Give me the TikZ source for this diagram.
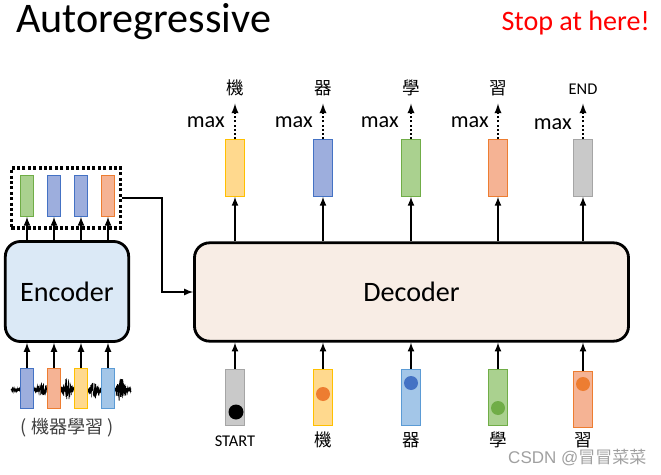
\documentclass[tikz,border=0pt]{standalone}
\usepackage{fontspec}
\usepackage{xcolor}
\setmainfont{Carlito}
\newfontfamily\cjk{Noto Sans CJK TC}
\newfontfamily\wmfont{Liberation Sans}

\definecolor{yelF}{HTML}{FFD98E}\definecolor{yelD}{HTML}{FFC000}
\definecolor{bluF}{HTML}{9DAEDD}\definecolor{bluD}{HTML}{4472C4}
\definecolor{grnF}{HTML}{AAD18F}\definecolor{grnD}{HTML}{70AD47}
\definecolor{orgF}{HTML}{F5B394}\definecolor{orgD}{HTML}{ED7D31}
\definecolor{gryF}{HTML}{C9C9C9}\definecolor{gryD}{HTML}{A5A5A5}
\definecolor{lblF}{HTML}{A3C6E8}\definecolor{lblD}{HTML}{5B9BD5}
\definecolor{encF}{HTML}{DBE9F6}
\definecolor{decF}{HTML}{F8EDE5}
\definecolor{wmC}{HTML}{A0A0A0}

\tikzset{arrow/.style={->, >=latex, line width=1.6pt}}
\tikzset{dotarrow/.style={arrow, dotted, line width=1.8pt}}
\tikzset{block/.style={draw=black, line width=2.4pt, rounded corners=0.45cm}}
\tikzset{dotbox/.style={draw=black, dotted, line width=2.6pt}}
\tikzset{vec/.style={draw, line width=0.8pt, inner sep=0pt, minimum width=0.55cm, minimum height=1.7cm}}
\tikzset{svec/.style={vec, minimum width=0.38cm, minimum height=1.22cm}}
\tikzset{vyel/.style={fill=yelF, draw=yelD}}
\tikzset{vblu/.style={fill=bluF, draw=bluD}}
\tikzset{vgrn/.style={fill=grnF, draw=grnD}}
\tikzset{vorg/.style={fill=orgF, draw=orgD}}
\tikzset{vgry/.style={fill=gryF, draw=gryD}}
\tikzset{vlbl/.style={fill=lblF, draw=lblD}}
\tikzset{ball/.style={circle, inner sep=0pt, minimum size=0.42cm}}
\tikzset{word/.style={anchor=base, inner sep=0pt, text depth=0pt, font=\cjk\fontsize{15}{17}\selectfont}}
\tikzset{maxlbl/.style={anchor=base east, inner sep=0pt, font=\fontsize{19}{21}\selectfont}}
\tikzset{wave/.style={line width=0.5pt, black}}

\begin{document}
\begin{tikzpicture}[x=0.03cm, y=-0.03cm]
  \useasboundingbox (0,0) rectangle (661,475);

  \node[anchor=base west, font=\fontsize{36}{40}\selectfont] (title) at (12,32) {Autoregressive};
  \node[anchor=base east, text=red, font=\fontsize{24}{28}\selectfont] (stop) at (654,30) {Stop at here!};

  % encoder
  \pgfmathsetseed{11}
  \draw[wave] plot[domain=11:131, samples=800]
    (\x, {390 + (2 + 5*exp(0-((\x-42)/5)^2) + 10*exp(0-((\x-67)/4)^2) + 7*exp(0-((\x-94)/5)^2) + 11*exp(0-((\x-121)/4)^2))*rand});

  \node[svec, vblu] (x1) at (27,388.5) {};
  \node[svec, vorg] (x2) at (54,388.5) {};
  \node[svec, vyel] (x3) at (81,388.5) {};
  \node[svec, vlbl] (x4) at (108,388.5) {};
  \node[anchor=base, text=black!75, font=\cjk\fontsize{15.5}{17}\selectfont] (src) at (67.5,433) {( 機器學習 )};

  \node[block, fill=encF, minimum width=3.7cm, minimum height=3.0cm] (enc) at (67,291.5) {\fontsize{24}{26}\selectfont Encoder};

  \draw[arrow] (x1) -- (x1 |- enc.south);
  \draw[arrow] (x2) -- (x2 |- enc.south);
  \draw[arrow] (x3) -- (x3 |- enc.south);
  \draw[arrow] (x4) -- (x4 |- enc.south);

  \node[svec, vgrn] (h1) at (27,196) {};
  \node[svec, vblu] (h2) at (54,196) {};
  \node[svec, vblu] (h3) at (81,196) {};
  \node[svec, vorg] (h4) at (108,196) {};
  \node[dotbox, minimum width=3.27cm, minimum height=1.8cm] (hbox) at (66,198) {};

  \draw[arrow] (enc.north -| h1) -- (h1);
  \draw[arrow] (enc.north -| h2) -- (h2);
  \draw[arrow] (enc.north -| h3) -- (h3);
  \draw[arrow] (enc.north -| h4) -- (h4);

  % decoder
  \node[block, fill=decF, minimum width=13.02cm, minimum height=2.95cm] (dec) at (411.5,292) {\fontsize{24}{26}\selectfont Decoder};
  \draw[arrow] (hbox.east) -- ++(40,0) |- (dec.west);

  \node[vec, vyel] (o1) at (235,168) {};
  \node[vec, vblu] (o2) at (323,168) {};
  \node[vec, vgrn] (o3) at (411,168) {};
  \node[vec, vorg] (o4) at (498,168) {};
  \node[vec, vgry] (o5) at (583,168) {};

  \draw[arrow] (dec.north -| o1) -- (o1);
  \draw[arrow] (dec.north -| o2) -- (o2);
  \draw[arrow] (dec.north -| o3) -- (o3);
  \draw[arrow] (dec.north -| o4) -- (o4);
  \draw[arrow] (dec.north -| o5) -- (o5);

  \node[word] (w1) at (235,94) {機};
  \node[word] (w2) at (323,94) {器};
  \node[word] (w3) at (411,94) {學};
  \node[word] (w4) at (498,94) {習};
  \node[word, font=\fontsize{14}{16}\selectfont] (w5) at (583,94) {END};

  \draw[dotarrow, shorten >=8pt] (o1) -- (w1);
  \draw[dotarrow, shorten >=8pt] (o2) -- (w2);
  \draw[dotarrow, shorten >=8pt] (o3) -- (w3);
  \draw[dotarrow, shorten >=8pt] (o4) -- (w4);
  \draw[dotarrow, shorten >=8pt] (o5) -- (w5);

  \node[maxlbl] (m1) at (225,127) {max};
  \node[maxlbl] (m2) at (313,127) {max};
  \node[maxlbl] (m3) at (399,127) {max};
  \node[maxlbl] (m4) at (489,127) {max};
  \node[maxlbl] (m5) at (572,129) {max};

  \node[vec, vgry] (i1) at (235,397.5) {};
  \node[vec, vyel] (i2) at (323,397.5) {};
  \node[vec, vlbl] (i3) at (411,397.5) {};
  \node[vec, vgrn] (i4) at (498,397.5) {};
  \node[vec, vorg] (i5) at (583,399.5) {};

  \node[ball, fill=black, minimum size=0.45cm] (d1) at (236,412) {};
  \node[ball, fill=orgD] (d2) at (323,394) {};
  \node[ball, fill=bluD] (d3) at (411,383) {};
  \node[ball, fill=grnD] (d4) at (498,408) {};
  \node[ball, fill=orgD] (d5) at (583,384) {};

  \draw[arrow] (i1) -- (i1 |- dec.south);
  \draw[arrow] (i2) -- (i2 |- dec.south);
  \draw[arrow] (i3) -- (i3 |- dec.south);
  \draw[arrow] (i4) -- (i4 |- dec.south);
  \draw[arrow] (i5) -- (i5 |- dec.south);

  \node[word, font=\fontsize{14}{16}\selectfont] (b1) at (235,446) {START};
  \node[word] (b2) at (323,446) {機};
  \node[word] (b3) at (411,446) {器};
  \node[word] (b4) at (498,446) {學};
  \node[word] (b5) at (583,446) {習};

  \node[anchor=base west, inner sep=0pt, text=wmC, font=\wmfont\fontsize{14.5}{16}\selectfont] (wm) at (508,463) {CSDN @{\cjk 冒冒菜菜}};
\end{tikzpicture}
\end{document}
